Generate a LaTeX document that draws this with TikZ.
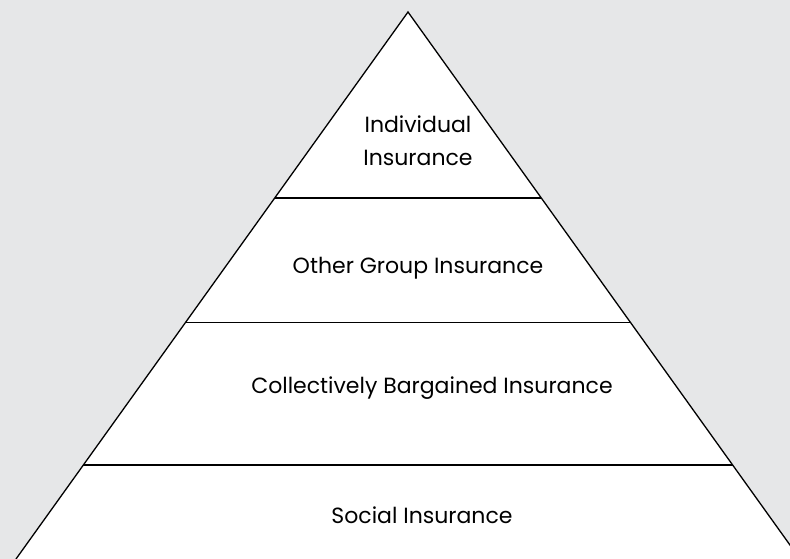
\documentclass[tikz,border=0pt]{standalone}
\usepackage{fontspec}
\setmainfont{Poppins}
\usepackage{xcolor}
\usetikzlibrary{calc}

\definecolor{bggray}{HTML}{E6E7E8}

\begin{document}
\begin{tikzpicture}[x=1pt, y=-1pt, line width=1.3pt,
    tier/.style={font=\fontsize{22}{33}\selectfont, align=center, inner sep=0pt}]

  \useasboundingbox (0,0) rectangle (790,559);
  \fill[bggray] (0,0) rectangle (790,559);
  \clip (0,0) rectangle (790,559);

  \coordinate (Top) at (408,12);
  \coordinate (BL) at (16,559);
  \coordinate (BR) at (800,559);

  \filldraw[fill=white, line join=miter] (BL) -- (Top) -- (BR);

  % tier borders
  \foreach \t [count=\i] in {0.340,0.567,0.828} {
    \draw ($(Top)!\t!(BL)$) -- ($(Top)!\t!(BR)$);
  }

  \node[tier] (indiv) at (418,141) {Individual\\Insurance};
  \node[tier] (group) at (418,268) {Other Group Insurance};
  \node[tier] (coll)  at (432,388) {Collectively Bargained Insurance};
  \node[tier] (soc)   at (422,515) {Social Insurance};

\end{tikzpicture}
\end{document}
